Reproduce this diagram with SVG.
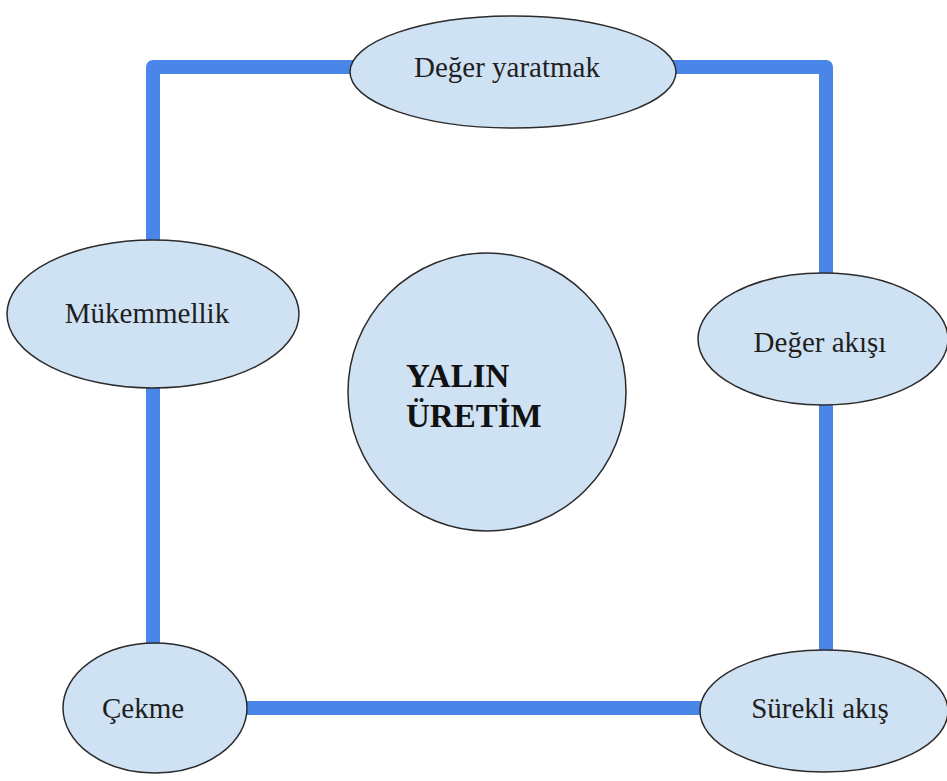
<svg xmlns="http://www.w3.org/2000/svg" width="947" height="781" viewBox="0 0 947 781">
<style>
.node{fill:#cfe2f3;stroke:#2b2b2b;stroke-width:1.5}
.lbl{font-family:"Liberation Serif","Times New Roman",serif;font-size:29px;fill:#1f1f1f;text-anchor:middle}
.title{font-family:"Liberation Serif","Times New Roman",serif;font-size:33px;font-weight:bold;fill:#111}
.conn{fill:none;stroke:#4a86e8;stroke-width:14;stroke-linejoin:round}
</style>
<rect width="947" height="781" fill="#ffffff"/>
<g id="connectors">
<path class="conn" d="M153,67 H826 V708 H153 Z"/>
</g>
<g id="deger-yaratmak">
<ellipse class="node" cx="513" cy="72" rx="163" ry="56"/>
<text class="lbl" x="507" y="77">Değer yaratmak</text>
</g>
<g id="mukemmellik">
<ellipse class="node" cx="153" cy="314" rx="146" ry="74"/>
<text class="lbl" x="147" y="323">Mükemmellik</text>
</g>
<g id="yalin-uretim">
<circle class="node" cx="487" cy="392" r="139"/>
<text class="title" x="406" y="387">YALIN</text>
<text class="title" x="406" y="427">ÜRETİM</text>
</g>
<g id="deger-akisi">
<ellipse class="node" cx="823" cy="339" rx="125" ry="66"/>
<text class="lbl" x="820" y="352">Değer akışı</text>
</g>
<g id="cekme">
<ellipse class="node" cx="155" cy="708" rx="92" ry="65"/>
<text class="lbl" x="143" y="718">Çekme</text>
</g>
<g id="surekli-akis">
<ellipse class="node" cx="824" cy="711" rx="124" ry="61"/>
<text class="lbl" x="820" y="718">Sürekli akış</text>
</g>
</svg>
